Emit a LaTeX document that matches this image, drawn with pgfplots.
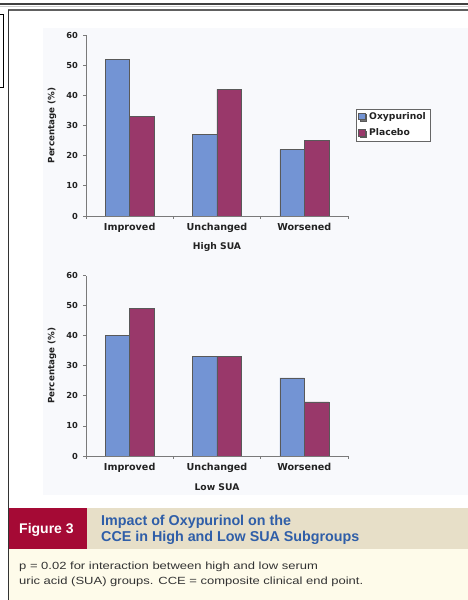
\documentclass[border=0pt]{standalone}
\usepackage{pgfplots}
\pgfplotsset{compat=1.18}
\usepackage{fontspec}
\setmainfont{Liberation Sans}
\newfontfamily\dvb{DejaVu Sans}
\newfontfamily\notefont[FakeStretch=1.25]{Liberation Sans}
\usetikzlibrary{shadows}
\definecolor{oxy}{HTML}{7394D4}
\definecolor{plc}{HTML}{99386A}
\definecolor{figred}{HTML}{A50A35}
\definecolor{beigeband}{HTML}{E7DFC8}
\definecolor{creamband}{HTML}{FEFBEA}
\definecolor{ttlblue}{HTML}{2F5EA8}
\definecolor{chartbg}{HTML}{F8F9FC}
\definecolor{axgray}{HTML}{7A7A7A}
\definecolor{txt}{HTML}{222222}
\pgfplotsset{
  mybar/.style={
    scale only axis, width=262pt, height=181pt,
    xmin=-0.5, xmax=2.5, ymin=0, ymax=60,
    ytick={0,10,...,60},
    xtick={0,1,2},
    xticklabels={Improved,Unchanged,Worsened},
    minor xtick={-0.5,0.5,1.5,2.5},
    axis x line*=bottom, axis y line*=left,
    axis line style={draw=axgray, line width=0.8pt, -},
    tick align=outside,
    major tick length=3pt, minor tick length=3pt,
    tick style={draw=axgray, line width=0.8pt},
    major x tick style={draw=none},
    /pgf/number format/assume math mode=true,
    ybar=0pt, bar width=24.5pt,
    yticklabel style={font=\dvb\bfseries\fontsize{8.3}{9}\selectfont, text=txt, xshift=-1.5pt},
    xticklabel style={font=\dvb\bfseries\fontsize{9.6}{10}\selectfont, text=txt, yshift=-0.5pt},
    ylabel={Percentage (\%)},
    ylabel style={font=\dvb\bfseries\fontsize{8.7}{9}\selectfont, text=txt, at={(axis description cs:-0.13,0.5)}, anchor=center},
    xlabel style={font=\dvb\bfseries\fontsize{9.2}{10}\selectfont, text=txt, at={(axis description cs:0.5,-0.171)}, anchor=center},
    every axis plot/.append style={draw=black!65, line width=0.5pt},
  }
}
\begin{document}
\begin{tikzpicture}[x=1pt,y=1pt]
\path[use as bounding box] (0,0) rectangle (468,600);
\fill[chartbg] (43,572) rectangle (468,105);
% frame
\draw[black!75, line width=1.5pt] (0,596) -- (468,596);
\draw[gray!40, line width=1pt] (0,593.8) -- (468,593.8);
\draw[gray!75!black, line width=1.2pt] (8.3,590) -- (468,590);
\draw[black!80, line width=1.5pt] (8.3,590) -- (8.3,0);
\draw[black, line width=1pt] (-2,585) -- (3.5,585) -- (3.5,512) -- (-2,512);
% top chart
\begin{axis}[mybar, at={(86pt,384pt)}, anchor=south west,
  xlabel={High SUA},
  legend style={at={(1.0305,0.593)}, anchor=north west, draw=black!60, fill=white,
    drop shadow={shadow xshift=1.5pt, shadow yshift=-1.2pt, fill=black!55, opacity=1},
    font=\dvb\bfseries\fontsize{9.2}{10}\selectfont, text=txt,
    inner xsep=2pt, inner ysep=1.5pt, row sep=4pt, column sep=2pt, legend cell align=left},
  legend image code/.code={\draw[#1, draw=black!65] (0pt,-3pt) rectangle (6.5pt,3.5pt);}]
\addplot[fill=oxy] coordinates {(0,52) (1,27) (2,22)};
\addplot[fill=plc] coordinates {(0,33) (1,42) (2,25)};
\legend{Oxypurinol,Placebo}
\end{axis}
% bottom chart
\begin{axis}[mybar, at={(86pt,144pt)}, anchor=south west, height=180.5pt,
  xlabel={Low SUA}]
\addplot[fill=oxy] coordinates {(0,40) (1,33) (2,26)};
\addplot[fill=plc] coordinates {(0,49) (1,33) (2,18)};
\end{axis}
% caption
\fill[figred] (9,92) rectangle (87,51);
\fill[beigeband] (87,92) rectangle (468,51);
\fill[creamband] (9,51) rectangle (468,0);
\node[anchor=base west, inner sep=0pt, text=white, font=\bfseries\fontsize{14}{15}\selectfont] at (19,66.7) {Figure 3};
\node[anchor=base west, inner sep=0pt, text=ttlblue, font=\bfseries\fontsize{14.3}{15}\selectfont] at (101,74) {Impact of Oxypurinol on the};
\node[anchor=base west, inner sep=0pt, text=ttlblue, font=\bfseries\fontsize{14.3}{15}\selectfont] at (101,58) {CCE in High and Low SUA Subgroups};
\node[anchor=base west, inner sep=0pt, text=black!80, font=\notefont\fontsize{10.4}{12}\selectfont] at (19,30) {p = 0.02 for interaction between high and low serum};
\node[anchor=base west, inner sep=0pt, text=black!80, font=\notefont\fontsize{10.4}{12}\selectfont] at (19,16) {uric acid (SUA) groups. CCE = composite clinical end point.};
\end{tikzpicture}
\end{document}
